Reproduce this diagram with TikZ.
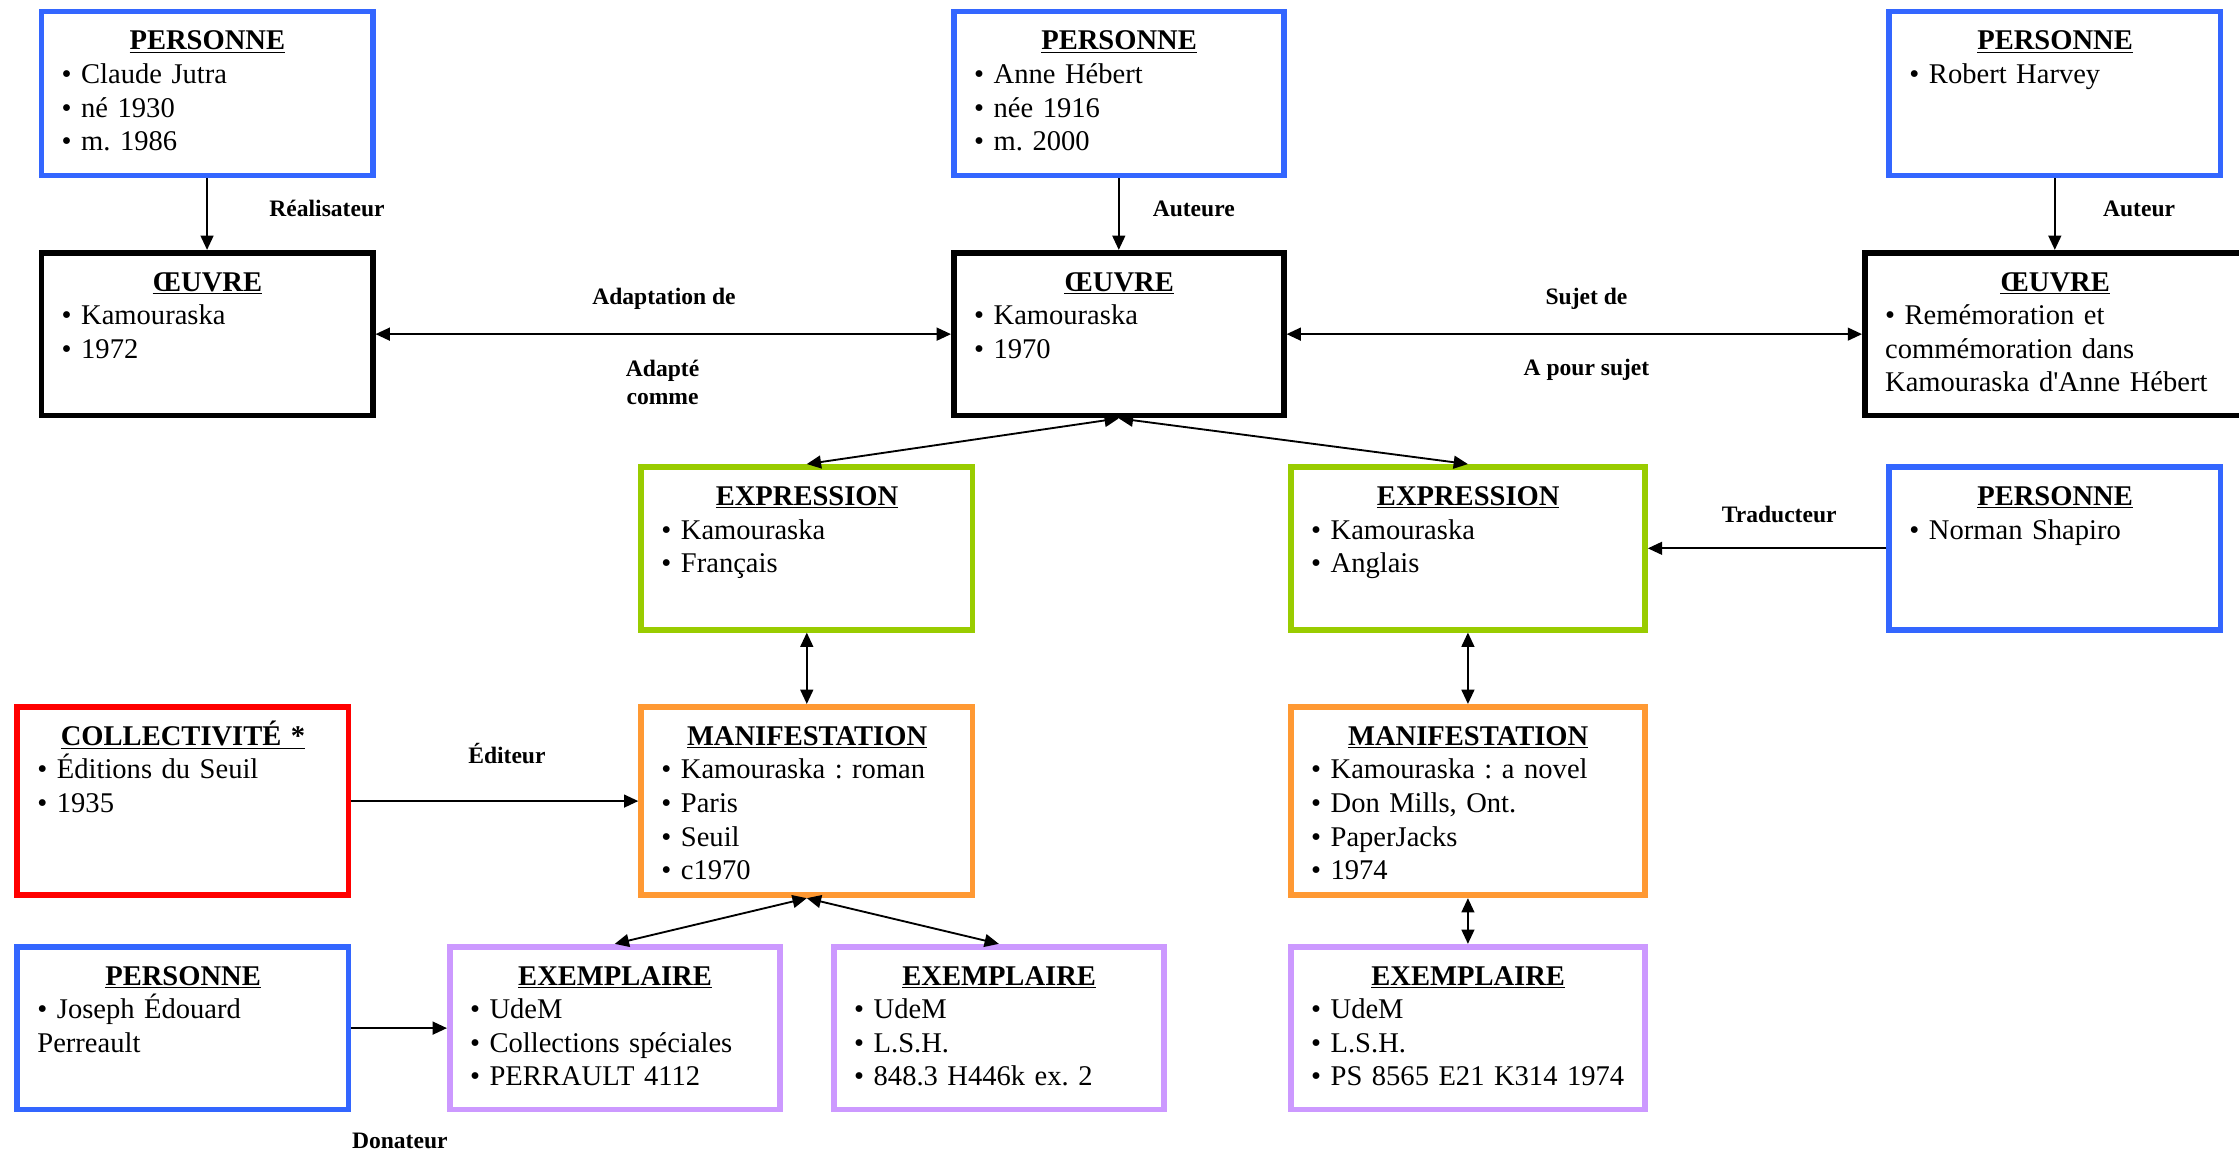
\documentclass[tikz,border=0pt]{standalone}
\usepackage{fontspec}
\setmainfont{Liberation Serif}
\usetikzlibrary{arrows.meta}
\definecolor{cblue}{HTML}{3366FF}
\definecolor{cgreen}{HTML}{99CC00}
\definecolor{corange}{HTML}{FF9933}
\definecolor{cpurple}{HTML}{CC99FF}
\definecolor{cred}{HTML}{FF0000}
\frenchspacing
\tikzset{
  ebox/.style={draw, line width=4pt, inner sep=0pt, rectangle},
  etext/.style={inner sep=0pt, align=left, font=\fontsize{20}{23.5}\selectfont},
  lbl/.style={inner sep=0pt, align=center, font=\fontsize{16.5}{19.5}\selectfont\bfseries},
  conn/.style={line width=1.3pt, -{Triangle[length=10pt,width=9pt]}},
  conntwo/.style={line width=1.3pt, {Triangle[length=10pt,width=9pt]}-{Triangle[length=10pt,width=9pt]}}
}
\newcommand\ttl[1]{\makebox[\linewidth][c]{\textbf{\underline{#1}}}}
\newcommand\li[1]{\mbox{\textbullet\ #1}}
\newcommand\ent[7]{%
  \node[ebox, draw=#6, minimum width=#4, minimum height=#5] (#1) at (#2,#3) {};
  \pgfmathsetlengthmacro\enttw{#4-28}%
  \node[etext, text width=\enttw, anchor=base west] (#1-t) at ([xshift=16pt,yshift=-29pt]#1.north west) {#7};
}
\begin{document}
\begin{tikzpicture}[x=1pt,y=-1pt]
\useasboundingbox (0,0) rectangle (1568,810);
\clip (0,0) rectangle (1568,810);
% entities
\ent{p1}{145}{65.5}{232}{115}{cblue}{\ttl{PERSONNE}\\\li{Claude Jutra}\\\li{né 1930}\\\li{m. 1986}}
\ent{o1}{145}{234}{232}{114}{black}{\ttl{ŒUVRE}\\\li{Kamouraska}\\\li{1972}}
\ent{p2}{783.5}{65.5}{231}{115}{cblue}{\ttl{PERSONNE}\\\li{Anne Hébert}\\\li{née 1916}\\\li{m. 2000}}
\ent{o2}{783.5}{234}{231}{114}{black}{\ttl{ŒUVRE}\\\li{Kamouraska}\\\li{1970}}
\ent{p3}{1439}{65.5}{232}{115}{cblue}{\ttl{PERSONNE}\\\li{Robert Harvey}}
\ent{o3}{1439}{234}{266}{114}{black}{\ttl{ŒUVRE}\\\li{Remémoration et}\\\mbox{commémoration dans}\\\mbox{Kamouraska d\textquotesingle Anne Hébert}}
\ent{e1}{565}{384}{232}{114}{cgreen}{\ttl{EXPRESSION}\\\li{Kamouraska}\\\li{Français}}
\ent{e2}{1028}{384}{248}{114}{cgreen}{\ttl{EXPRESSION}\\\li{Kamouraska}\\\li{Anglais}}
\ent{p4}{1439}{384}{232}{114}{cblue}{\ttl{PERSONNE}\\\li{Norman Shapiro}}
\ent{c1}{128}{561}{232}{132}{cred}{\ttl{COLLECTIVITÉ *}\\\li{Éditions du Seuil}\\\li{1935}}
\ent{m1}{565}{561}{232}{132}{corange}{\ttl{MANIFESTATION}\\\li{Kamouraska : roman}\\\li{Paris}\\\li{Seuil}\\\li{c1970}}
\ent{m2}{1028}{561}{248}{132}{corange}{\ttl{MANIFESTATION}\\\li{Kamouraska : a novel}\\\li{Don Mills, Ont.}\\\li{PaperJacks}\\\li{1974}}
\ent{p5}{128}{720}{232}{114}{cblue}{\ttl{PERSONNE}\\\li{Joseph Édouard}\\\mbox{Perreault}}
\ent{x1}{430.5}{720}{231}{114}{cpurple}{\ttl{EXEMPLAIRE}\\\li{UdeM}\\\li{Collections spéciales}\\\li{PERRAULT 4112}}
\ent{x2}{699.5}{720}{231}{114}{cpurple}{\ttl{EXEMPLAIRE}\\\li{UdeM}\\\li{L.S.H.}\\\li{848.3 H446k ex. 2}}
\ent{x3}{1028}{720}{248}{114}{cpurple}{\ttl{EXEMPLAIRE}\\\li{UdeM}\\\li{L.S.H.}\\\li{PS 8565 E21 K314 1974}}
% connectors
\draw[conn] (p1.south) -- (o1.north);
\draw[conn] (p2.south) -- (o2.north);
\draw[conn] (p3.south) -- (o3.north);
\draw[conntwo] (o1.east) -- (o2.west);
\draw[conntwo] (o2.east) -- (o3.west);
\draw[conntwo] (o2.south) -- (e1.north);
\draw[conntwo] (o2.south) -- (e2.north);
\draw[conntwo] (e1.south) -- (m1.north);
\draw[conntwo] (e2.south) -- (m2.north);
\draw[conn] (p4.west) -- (e2.east);
\draw[conn] (c1.east) -- (m1.west);
\draw[conntwo] (m1.south) -- (x1.north);
\draw[conntwo] (m1.south) -- (x2.north);
\draw[conntwo] (m2.south) -- (x3.north);
\draw[conn] (p5.east) -- (x1.west);
% labels
\node[lbl] (l-real) at (229,146) {Réalisateur};
\node[lbl] (l-aute) at (836,146) {Auteure};
\node[lbl] (l-aut) at (1498,146) {Auteur};
\node[lbl] (l-adapde) at (465,209) {Adaptation de};
\node[lbl] (l-adapc) at (464,268) {Adapté\\comme};
\node[lbl] (l-sujet) at (1111,209) {Sujet de};
\node[lbl] (l-apour) at (1111,259) {A pour sujet};
\node[lbl] (l-trad) at (1246,360) {Traducteur};
\node[lbl] (l-edit) at (355,528) {Éditeur};
\node[lbl] (l-don) at (280,799) {Donateur};
\end{tikzpicture}
\end{document}
